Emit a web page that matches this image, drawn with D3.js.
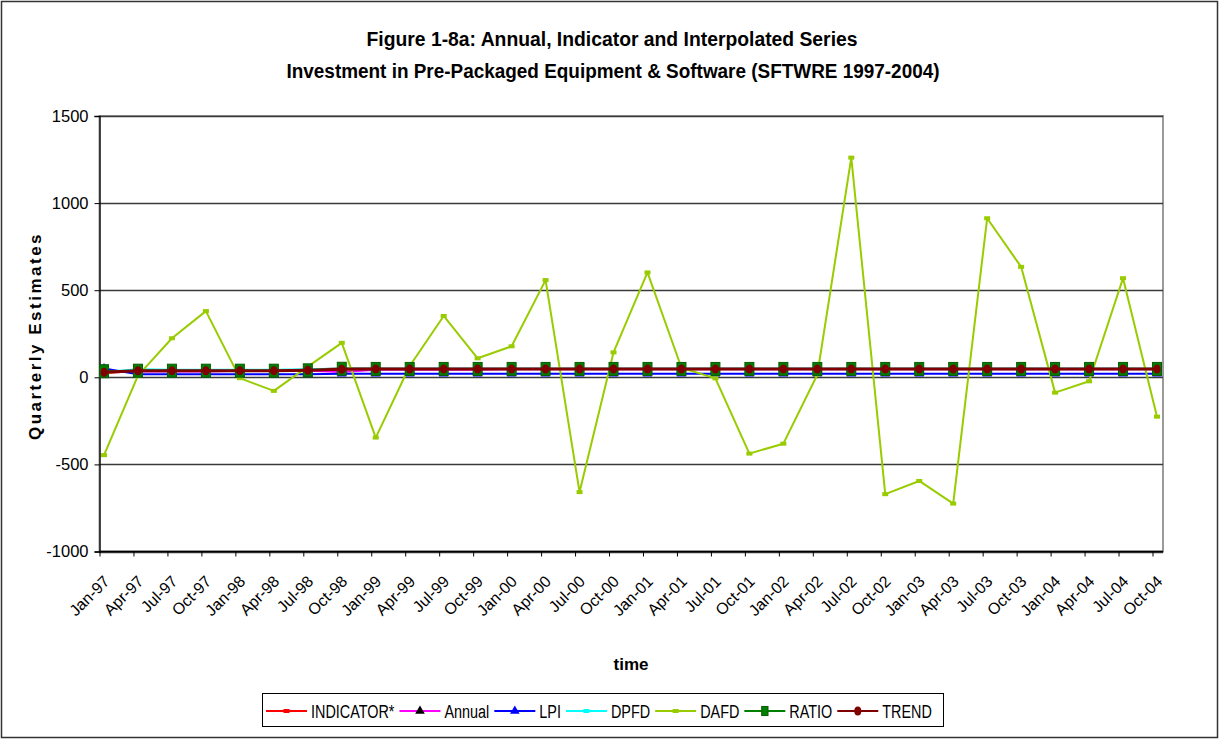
<!DOCTYPE html>
<html>
<head>
<meta charset="utf-8">
<script src="https://cdn.jsdelivr.net/npm/d3@7"></script>
<style>
  body { margin: 0; background: #fff; }
  svg { display: block; font-family: "Liberation Sans", Arial, sans-serif; }
</style>
</head>
<body>
<div id="chart"></div>
<script>
// quarters on the category axis
const quarters = ["Jan-97","Apr-97","Jul-97","Oct-97","Jan-98","Apr-98","Jul-98","Oct-98",
  "Jan-99","Apr-99","Jul-99","Oct-99","Jan-00","Apr-00","Jul-00","Oct-00",
  "Jan-01","Apr-01","Jul-01","Oct-01","Jan-02","Apr-02","Jul-02","Oct-02",
  "Jan-03","Apr-03","Jul-03","Oct-03","Jan-04","Apr-04","Jul-04","Oct-04"];

// series values
const indicator = [25,36,37,37,38,38,44,52,50,49,49,49,49,49,49,49,49,49,49,49,49,49,49,49,49,49,49,49,49,49,49,49];
const annual    = [33,33,33,33,38,38,38,30,44,44,44,44,46,46,46,46,46,46,46,46,46,46,46,46,46,46,46,46,46,46,46,46];
const lpi       = [50,18,18,18,18,18,18,20,20,20,20,20,20,20,20,20,20,20,20,20,20,20,20,20,20,20,20,20,20,20,20,20];
const dpfd      = [30,46,44,44,44,44,46,50,50,50,50,50,50,50,50,50,50,50,50,50,50,50,50,50,50,50,50,50,50,50,50,50];
const dafd      = [-447,10,224,380,-5,-78,61,198,-346,65,352,109,178,558,-659,143,
                   602,55,-6,-438,-381,15,1261,-671,-595,-725,913,634,-88,-23,569,-226];
const ratio     = [35,38,38,38,38,38,40,49,48,48,48,48,48,48,48,48,48,48,48,48,48,48,48,48,48,48,48,48,48,48,48,48];
const trend     = [29,38,38,38,38,38,40,46,48,48,48,48,48,48,48,48,48,48,48,48,48,48,48,48,48,48,48,48,48,48,48,48];

const yTicks = [-1000, -500, 0, 500, 1000, 1500];

const series = [
  { name: "INDICATOR*", values: indicator, color: "#ff0000", marker: "dash", mcolor: "#ff0000", width: 2 },
  { name: "Annual", values: annual, color: "#ff00ff", marker: "triangle", mcolor: "#000000", width: 2 },
  { name: "LPI", values: lpi, color: "#0000ff", marker: "triangle", mcolor: "#0000ff", width: 2 },
  { name: "DPFD", values: dpfd, color: "#00ffff", marker: "dash", mcolor: "#00ffff", width: 2 },
  { name: "DAFD", values: dafd, color: "#99cc00", marker: "dash", mcolor: "#99cc00", width: 2 },
  { name: "RATIO", values: ratio, color: "#008000", marker: "square", mcolor: "#008000", width: 2 },
  { name: "TREND", values: trend, color: "#800000", marker: "circle", mcolor: "#800000", width: 3 }
];

const W = 1220, H = 740;
const svg = d3.select("#chart").append("svg").attr("width", W).attr("height", H);

svg.append("rect").attr("x", 1.5).attr("y", 1.5).attr("width", W - 4).attr("height", H - 4)
  .attr("fill", "#fff").attr("stroke", "#333").attr("stroke-width", 1.5);

const plotL = 99.5, plotR = 1163, plotT = 116, plotB = 551.5;

const x = d3.scalePoint().domain(quarters).range([104, 1157]);
const xTick = d3.scalePoint().domain(quarters).range([99.5, 1152.5]);
const y = d3.scaleLinear().domain([-1000, 1500]).range([plotB, plotT]);

// plot area border
svg.append("rect").attr("x", plotL).attr("y", plotT).attr("width", plotR - plotL).attr("height", plotB - plotT)
  .attr("fill", "none").attr("stroke", "#9a9a9a").attr("stroke-width", 2);

// gridlines
svg.append("g").selectAll("line").data(yTicks).enter().append("line")
  .attr("x1", plotL).attr("x2", plotR)
  .attr("y1", d => Math.round(y(d)) + 0.5).attr("y2", d => Math.round(y(d)) + 0.5)
  .attr("stroke", "#3a3a3a").attr("stroke-width", 1.3);

// y axis
const yAxis = svg.append("g").attr("transform", `translate(${plotL},0)`)
  .call(d3.axisLeft(y).tickValues(yTicks).tickSize(5).tickPadding(6).tickFormat(d => String(d)));
yAxis.select(".domain").attr("stroke", "#000").attr("stroke-width", 1.3);
yAxis.selectAll("text").attr("font-size", 16.5).attr("fill", "#000")
  .attr("font-family", "Liberation Sans, Arial, sans-serif");

// x axis
const xAxis = svg.append("g").attr("transform", `translate(0,${plotB})`)
  .call(d3.axisBottom(xTick).tickSize(5).tickSizeOuter(0).tickFormat(""));
xAxis.select(".domain").attr("d", `M${plotL},0H${plotR}`).attr("stroke", "#000").attr("stroke-width", 1.3);
xAxis.selectAll(".tick line").attr("stroke", "#000");

svg.append("g").selectAll("text").data(quarters).enter().append("text")
  .attr("transform", d => `translate(${xTick(d) + 11},${plotB + 31}) rotate(-45)`)
  .attr("text-anchor", "end")
  .attr("font-size", 16)
  .text(d => d);

// lines
const line = d3.line().x((d, i) => x(quarters[i])).y(d => y(d));

function drawMarker(g, type, color, size) {
  if (type === "square") {
    g.append("rect").attr("x", -4.5 * size).attr("y", -6.5 * size).attr("width", 9 * size).attr("height", 13 * size)
      .attr("fill", color).attr("stroke", "#0a5a0a").attr("stroke-width", 1);
  } else if (type === "circle") {
    g.append("ellipse").attr("rx", 3.5 * size).attr("ry", 4.5 * size).attr("fill", color);
  } else if (type === "triangle") {
    g.append("path").attr("d", d3.symbol().type(d3.symbolTriangle).size(40 * size)()).attr("fill", color);
  } else {
    g.append("rect").attr("x", -3).attr("y", -2).attr("width", 6).attr("height", 4).attr("fill", color);
  }
}

series.forEach(s => {
  const g = svg.append("g");
  g.append("path").datum(s.values).attr("d", line)
    .attr("fill", "none").attr("stroke", s.color).attr("stroke-width", s.width).attr("stroke-linejoin", "round");
  g.selectAll("g.m").data(s.values).enter().append("g").attr("class", "m")
    .attr("transform", (d, i) => `translate(${x(quarters[i])},${y(d)})`)
    .each(function() { drawMarker(d3.select(this), s.marker, s.mcolor, 1); });
});

// titles
svg.append("text").attr("x", 612).attr("y", 46).attr("text-anchor", "middle")
  .attr("font-size", 20).attr("font-weight", "bold")
  .attr("textLength", 491).attr("lengthAdjust", "spacingAndGlyphs")
  .text("Figure 1-8a: Annual, Indicator and Interpolated Series");
svg.append("text").attr("x", 613).attr("y", 78).attr("text-anchor", "middle")
  .attr("font-size", 20).attr("font-weight", "bold")
  .attr("textLength", 653).attr("lengthAdjust", "spacingAndGlyphs")
  .text("Investment in Pre-Packaged Equipment & Software (SFTWRE 1997-2004)");

svg.append("text").attr("transform", "translate(41,336) rotate(-90)").attr("text-anchor", "middle")
  .attr("font-size", 17).attr("font-weight", "bold").attr("letter-spacing", "2.5px")
  .text("Quarterly Estimates");

svg.append("text").attr("x", 631).attr("y", 670).attr("text-anchor", "middle")
  .attr("font-size", 17).attr("font-weight", "bold").text("time");

// legend
const legend = svg.append("g");
legend.append("rect").attr("x", 262.5).attr("y", 693.5).attr("width", 681).attr("height", 33)
  .attr("fill", "#fff").attr("stroke", "#000").attr("stroke-width", 1);
let lx = 266;
series.forEach(s => {
  const item = legend.append("g").attr("transform", `translate(${lx},711)`);
  item.append("line").attr("x1", 0).attr("x2", 41).attr("stroke", s.color).attr("stroke-width", 2);
  const mk = item.append("g").attr("transform", "translate(20.5,0)");
  drawMarker(mk, s.marker, s.mcolor, s.marker === "square" ? 0.7 : 1);
  const t = item.append("text").attr("x", 45).attr("y", 6.5).attr("font-size", 18).text(s.name);
  const w = t.node().getComputedTextLength() * 0.8;
  t.attr("textLength", w).attr("lengthAdjust", "spacingAndGlyphs");
  lx += 45 + w + 5;
});
</script>
</body>
</html>
